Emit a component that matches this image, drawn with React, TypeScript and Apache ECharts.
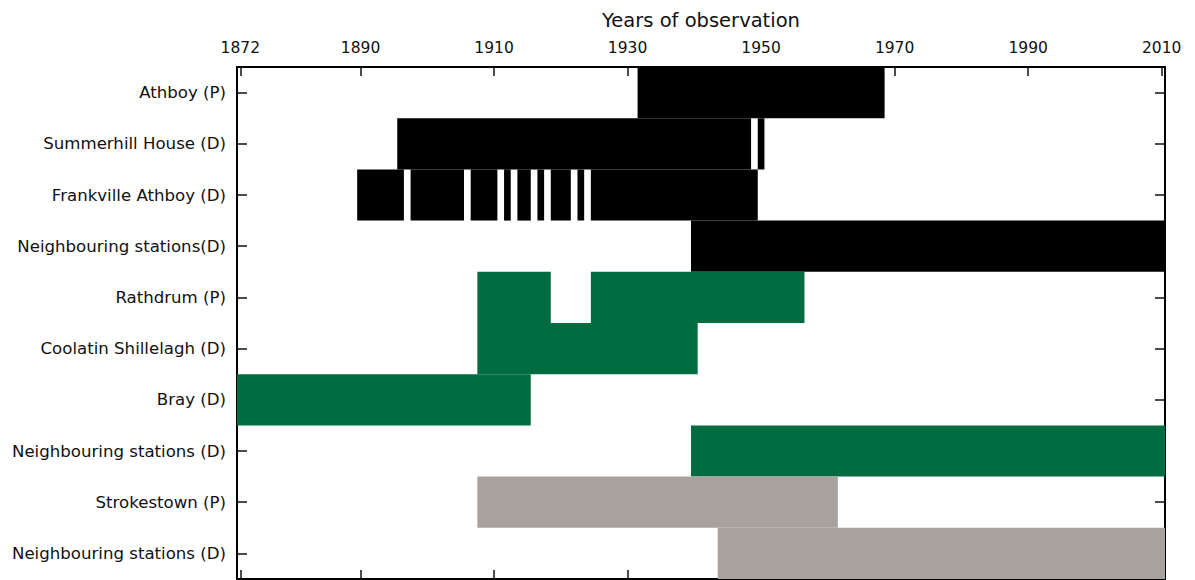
import React, { useEffect, useRef } from "react";
import * as echarts from "echarts";

// Station rows, top to bottom
const stations = [
  "Athboy (P)",
  "Summerhill House (D)",
  "Frankville Athboy (D)",
  "Neighbouring stations(D)",
  "Rathdrum (P)",
  "Coolatin Shillelagh (D)",
  "Bray (D)",
  "Neighbouring stations (D)",
  "Strokestown (P)",
  "Neighbouring stations (D)",
];

// Observation periods [first year, last year] per station
const athboy = [[1932, 1968]];
const summerhill = [[1896, 1948], [1950, 1950]];
const frankville = [
  [1890, 1896], [1898, 1905], [1907, 1910], [1912, 1912], [1914, 1915],
  [1917, 1917], [1919, 1921], [1923, 1923], [1925, 1949],
];
const neighbouringMeath = [[1940, 2010]];
const rathdrum = [[1908, 1918], [1925, 1956]];
const coolatin = [[1908, 1940]];
const bray = [[1872, 1915]];
const neighbouringWicklow = [[1940, 2010]];
const strokestown = [[1908, 1961]];
const neighbouringRoscommon = [[1944, 2010]];

const yearTicks = [1872, 1890, 1910, 1930, 1950, 1970, 1990, 2010];
const axisTitle = "Years of observation";

const groups = [
  { color: "#000000", rows: [athboy, summerhill, frankville, neighbouringMeath], rowOffset: 0 },
  { color: "#026c41", rows: [rathdrum, coolatin, bray, neighbouringWicklow], rowOffset: 4 },
  { color: "#a7a29e", rows: [strokestown, neighbouringRoscommon], rowOffset: 8 },
];

const FONT = "DejaVu Sans";

export default function App() {
  const ref = useRef<HTMLDivElement>(null);
  useEffect(() => {
    if (!ref.current) return;
    const chart = echarts.init(ref.current, undefined, { renderer: "svg" });

    const series = groups.map((g) => {
      const data: number[][] = [];
      g.rows.forEach((periods, i) => {
        periods.forEach(([a, b]) => data.push([g.rowOffset + i, a, b]));
      });
      return {
        type: "custom",
        xAxisIndex: 0,
        yAxisIndex: 0,
        itemStyle: { color: g.color },
        encode: { x: [1, 2], y: 0 },
        data,
        renderItem: (params: any, api: any) => {
          const row = api.value(0);
          const start = api.value(1) - 0.5;
          const end = api.value(2) + 0.5;
          const p0 = api.coord([start, row]);
          const p1 = api.coord([end, row]);
          const h = api.size([0, 1])[1];
          return {
            type: "rect",
            shape: { x: p0[0], y: p0[1] - h / 2, width: p1[0] - p0[0], height: h },
            style: { fill: g.color },
          };
        },
      };
    });

    const xCommon = {
      type: "value",
      min: 1871.5,
      max: 2010.5,
      splitLine: { show: false },
      axisLine: { show: true, lineStyle: { color: "#000", width: 2 } },
      axisTick: {
        show: true,
        inside: true,
        length: 9,
        customValues: yearTicks,
        lineStyle: { color: "#111", width: 1.5 },
      },
    };
    const yCommon = {
      type: "category",
      data: stations,
      inverse: true,
      boundaryGap: true,
      splitLine: { show: false },
      axisLine: { show: true, lineStyle: { color: "#000", width: 2 } },
      axisTick: {
        show: true,
        inside: true,
        alignWithLabel: true,
        length: 10,
        lineStyle: { color: "#111", width: 1.5 },
      },
    };

    chart.setOption({
      animation: false,
      grid: { left: 237, top: 67, width: 928, height: 512, containLabel: false },
      xAxis: [
        {
          ...xCommon,
          position: "top",
          axisLabel: {
            show: true,
            customValues: yearTicks,
            formatter: (v: number) => String(v),
            margin: 11,
            fontFamily: FONT,
            fontSize: 15.5,
            color: "#111",
          },
        },
        { ...xCommon, position: "bottom", axisLabel: { show: false } },
      ],
      yAxis: [
        {
          ...yCommon,
          position: "left",
          axisLabel: { show: true, margin: 11, fontFamily: FONT, fontSize: 16.6, color: "#111" },
        },
        { ...yCommon, position: "right", axisLabel: { show: false } },
      ],
      graphic: [
        {
          type: "text",
          x: 701,
          y: 20,
          style: {
            text: axisTitle,
            fontFamily: FONT,
            fontSize: 19.5,
            fill: "#111",
            textAlign: "center",
            textVerticalAlign: "middle",
          },
        },
      ],
      series,
    });
    return () => chart.dispose();
  }, []);
  return (
    <div
      ref={ref}
      style={{ position: "absolute", left: 0, top: 0, width: 1195, height: 580, background: "#fff" }}
    />
  );
}
